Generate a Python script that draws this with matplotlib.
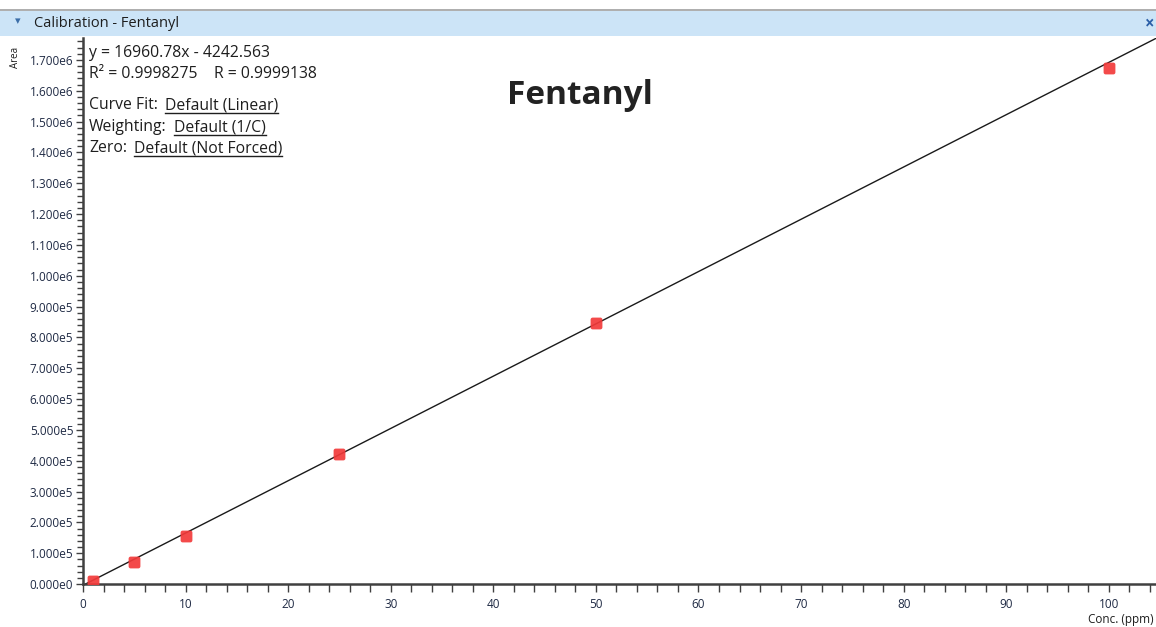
import matplotlib
matplotlib.use("Agg")
import matplotlib.pyplot as plt
from matplotlib.ticker import MultipleLocator, FuncFormatter
from matplotlib.patches import Rectangle
from matplotlib.lines import Line2D
from matplotlib.path import Path
import numpy as np

conc = [1, 5, 10, 25, 50, 100]
area = [9000, 72000, 157000, 422000, 848000, 1675000]
slope = 16960.78
intercept = -4242.563
title_text = "Calibration - Fentanyl"
compound = "Fentanyl"
eq_lines = ["y = 16960.78x - 4242.563", "R\u00B2 = 0.9998275    R = 0.9999138"]
opt_labels = ["Curve Fit:", "Weighting:", "Zero:"]
opt_values = ["Default (Linear)", "Default (1/C)", "Default (Not Forced)"]

W, H = 1156, 627
fig = plt.figure(figsize=(W/100, H/100), dpi=100)
plt.rcParams['font.family'] = ['Open Sans', 'DejaVu Sans']

def fx(px): return px / W
def fy(py): return 1 - py / H

# rounded square marker
def rounded_square(r=0.35, n=8):
    verts = []
    corners = [(1, 1, 0), (-1, 1, 90), (-1, -1, 180), (1, -1, 270)]
    for cx, cy, a0 in corners:
        ccx = cx - np.sign(cx) * r
        ccy = cy - np.sign(cy) * r
        for t in np.linspace(np.radians(a0), np.radians(a0 + 90), n):
            verts.append((ccx + r*np.cos(t), ccy + r*np.sin(t)))
    verts.append(verts[0])
    codes = [Path.MOVETO] + [Path.LINETO]*(len(verts)-2) + [Path.CLOSEPOLY]
    return Path(verts, codes)
rsq = rounded_square()

# title bar
fig.patches.append(Rectangle((0, fy(36)), 1, (36-11)/H, transform=fig.transFigure,
                             facecolor='#cce4f7', edgecolor='none', zorder=0))
fig.add_artist(Line2D([0, 1], [fy(9.5), fy(9.5)], transform=fig.transFigure, color='#a0a0a0', lw=1.2))
fig.text(fx(34), fy(23.5), title_text, fontsize=10.5, va='center', ha='left', color='#1e1e1e')
fig.text(fx(18), fy(22), "\u25BE", fontsize=8, va='center', ha='center', color='#3b6ea8')
fig.text(fx(1150), fy(23), "\u00D7", fontsize=12, va='center', ha='center', color='#2b5fa8', fontweight='bold')

x0, x1 = 83, 1156
y0, y1 = 584, 38
ax = fig.add_axes([fx(x0), fy(y0), (x1-x0)/W, (y0-y1)/H])
xmax = 104.6
ymax = 1.771e6
ax.set_xlim(0, xmax)
ax.set_ylim(0, ymax)

xs = np.array([-intercept/slope, xmax])
ax.plot(xs, slope*xs + intercept, color='#1a1a1a', lw=1.0, zorder=2)
ax.plot(conc, area, linestyle='none', marker=rsq, markersize=8.5, color='#f23a3a',
        alpha=0.92, markeredgewidth=0, zorder=3)

for s in ['top', 'right']:
    ax.spines[s].set_visible(False)
for s in ['left', 'bottom']:
    ax.spines[s].set_color('#404040')
    ax.spines[s].set_linewidth(1.8)

ax.xaxis.set_major_locator(MultipleLocator(10))
ax.xaxis.set_minor_locator(MultipleLocator(2))
ax.yaxis.set_major_locator(MultipleLocator(1e5))
ax.yaxis.set_minor_locator(MultipleLocator(2e4))

def yfmt(v, pos):
    if v == 0:
        return "0.000e0"
    e = int(np.floor(np.log10(abs(v)) + 1e-9))
    return f"{v/10**e:.3f}e{e}"
ax.yaxis.set_major_formatter(FuncFormatter(yfmt))
ax.xaxis.set_major_formatter(FuncFormatter(lambda v, p: f"{int(round(v))}"))

ax.tick_params(axis='both', which='major', labelsize=8.5, labelcolor='#1f2a44', color='#404040')
ax.tick_params(axis='y', which='major', length=5, width=1, pad=2)
ax.tick_params(axis='y', which='minor', length=4, width=1, color='#404040')
ax.tick_params(axis='x', which='major', length=6, width=1, pad=4)
ax.tick_params(axis='x', which='minor', length=6, width=1, color='#404040')

fig.text(fx(16), fy(57), "Area", rotation=90, fontsize=7, va='center', ha='center', color='#1e1e1e')
fig.text(fx(1088), fy(620), "Conc. (ppm)", fontsize=8.5, va='center', ha='left', color='#1e1e1e')

fig.text(fx(580), fy(96), compound, fontsize=24, fontweight='bold', va='center', ha='center', color='#222222')

tc = '#1e1e1e'
fs = 11.3
fig.text(fx(89), fy(53), eq_lines[0], fontsize=fs, va='center', ha='left', color=tc)
fig.text(fx(89), fy(74), eq_lines[1], fontsize=fs, va='center', ha='left', color=tc)

fig.canvas.draw()
renderer = fig.canvas.get_renderer()
ys = [105, 127, 148]
for lab, val, yy in zip(opt_labels, opt_values, ys):
    t1 = fig.text(fx(89), fy(yy), lab, fontsize=fs, va='center', ha='left', color=tc)
    bb = t1.get_window_extent(renderer)
    xstart = bb.x1 + 7
    t2 = fig.text(xstart/W, fy(yy), val, fontsize=fs, va='center', ha='left', color=tc)
    bb2 = t2.get_window_extent(renderer)
    yl = bb2.y0 + 0.5
    fig.add_artist(Line2D([bb2.x0/W, bb2.x1/W], [yl/H, yl/H], transform=fig.transFigure,
                          color=tc, lw=1.0))

fig.savefig("out.png", dpi=100)
